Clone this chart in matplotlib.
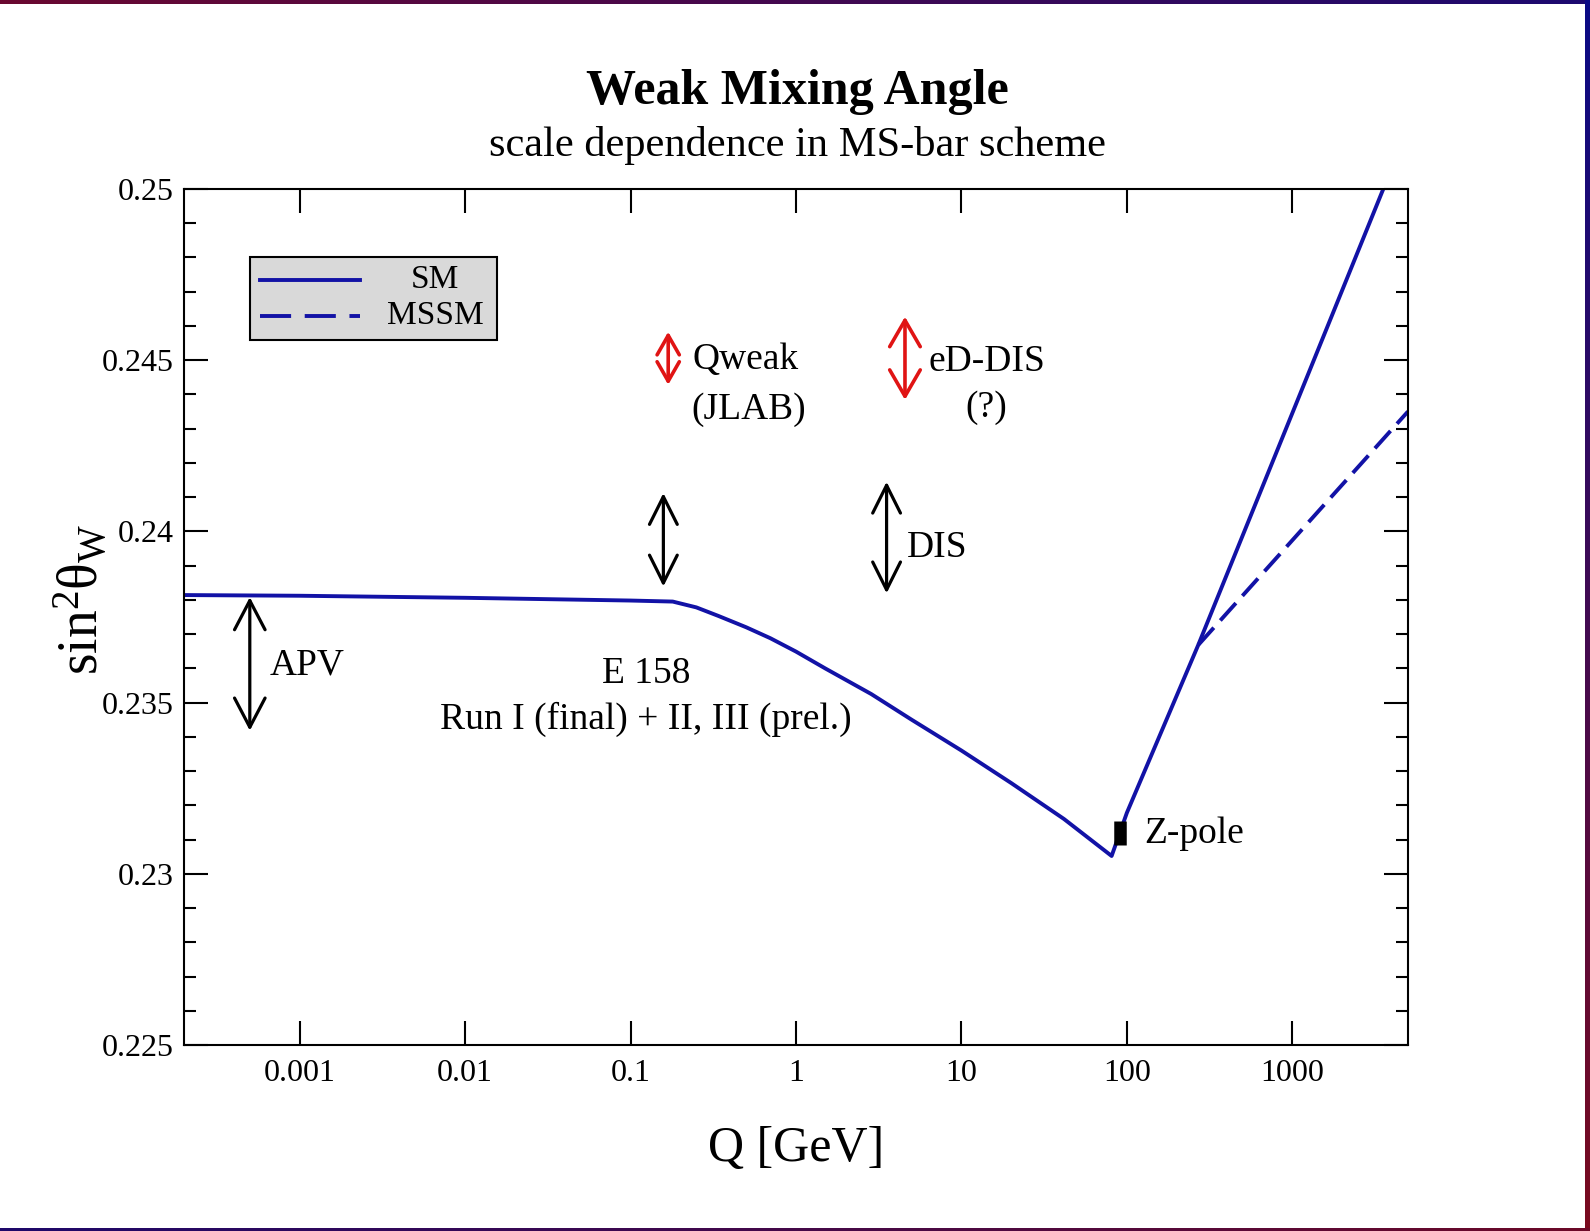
#!/usr/bin/env python3
"""Weak mixing angle running in the MS-bar scheme (xmgrace-style plot)."""

import numpy as np
import matplotlib
matplotlib.use("Agg")
import matplotlib.pyplot as plt
from matplotlib.colors import LinearSegmentedColormap
from matplotlib.patches import Rectangle
from matplotlib.lines import Line2D

plt.rcParams["font.family"] = ["Liberation Serif", "DejaVu Serif"]
plt.rcParams["mathtext.fontset"] = "custom"
plt.rcParams["mathtext.rm"] = "Liberation Serif"
plt.rcParams["mathtext.it"] = "Liberation Serif:italic"

# SM running of sin^2(theta_W)
q_sm = [2e-4, 1e-3, 1e-2, 0.1, 0.18, 0.25, 0.34, 0.5, 0.7, 1.0, 1.5, 2.85, 5.0,
        10.0, 20.0, 41.7, 80.9, 100.0, 270.0, 3548.0]
s2w_sm = [0.23814, 0.23812, 0.23806, 0.23798, 0.23795, 0.23778, 0.23753, 0.23720,
          0.23688, 0.23649, 0.23600, 0.23525, 0.23450, 0.23360, 0.23265, 0.23160,
          0.23052, 0.23178, 0.23668, 0.25000]

# MSSM branch above the SUSY threshold
q_mssm = [270.0, 5000.0]
s2w_mssm = [0.23668, 0.24350]

# measurements (black) and proposals (red): x, y_low, y_high
exp_names = ["APV", "E158", "DIS"]
exp_q = [5.0e-4, 0.158, 3.53]
exp_lo = [0.23418, 0.23839, 0.23819]
exp_hi = [0.23808, 0.24112, 0.24145]

future_names = ["Qweak", "eD-DIS"]
future_q = [0.169, 4.56]
future_lo = [0.24428, 0.24384]
future_hi = [0.24583, 0.24627]

zpole_q = 91.19
zpole_lo = 0.23085
zpole_hi = 0.23155

blue = "#1212a6"
red = "#e01414"

fig = plt.figure(figsize=(15.9, 12.31), dpi=100)
fig.patch.set_facecolor("white")
ax = fig.add_axes([0.1157, 0.1511, 0.7698, 0.6954])

ax.plot(q_sm, s2w_sm, color=blue, lw=2.8, solid_joinstyle="round")
ax.plot(q_mssm, s2w_mssm, color=blue, lw=2.8, dashes=(6, 2.5))


def double_arrow(x, lo, hi, color, hw=0.5, hl=1.0, lw=2.3):
    ax.annotate("", xy=(x, hi), xytext=(x, lo),
                arrowprops=dict(arrowstyle=f"<->, head_length={hl}, head_width={hw}",
                                color=color, lw=lw, shrinkA=0, shrinkB=0,
                                mutation_scale=20))


double_arrow(exp_q[0], exp_lo[0], exp_hi[0], "black", hw=0.55, hl=1.05)
double_arrow(exp_q[1], exp_lo[1], exp_hi[1], "black")
double_arrow(exp_q[2], exp_lo[2], exp_hi[2], "black")
double_arrow(future_q[0], future_lo[0], future_hi[0], red, hw=0.4, hl=0.7, lw=2.6)
double_arrow(future_q[1], future_lo[1], future_hi[1], red, hw=0.55, hl=0.95, lw=2.6)

ax.plot([zpole_q, zpole_q], [zpole_lo, zpole_hi], color="black", lw=9,
        solid_capstyle="butt")

fs = 27
ax.text(6.6e-4, 0.23608, "APV", fontsize=fs, va="center", ha="left")
ax.text(0.124, 0.23584, "E 158", fontsize=fs, va="center", ha="center")
ax.text(0.124, 0.23451, "Run I (final) + II, III (prel.)", fontsize=fs,
        va="center", ha="center")
ax.text(4.67, 0.23952, "DIS", fontsize=fs, va="center", ha="left")
ax.text(0.238, 0.24501, "Qweak", fontsize=fs, va="center", ha="left")
ax.text(0.516, 0.24355, "(JLAB)", fontsize=fs, va="center", ha="center")
ax.text(6.3, 0.24496, "eD-DIS", fontsize=fs, va="center", ha="left")
ax.text(14.2, 0.24360, "(?)", fontsize=fs, va="center", ha="center")
ax.text(128, 0.23118, "Z-pole", fontsize=fs, va="center", ha="left")

ax.set_xscale("log")
ax.set_xlim(2e-4, 5e3)
ax.set_ylim(0.225, 0.25)
ax.set_xticks([1e-3, 1e-2, 1e-1, 1, 10, 100, 1000])
ax.set_xticklabels(["0.001", "0.01", "0.1", "1", "10", "100", "1000"])
ax.xaxis.set_minor_locator(matplotlib.ticker.NullLocator())
ax.set_yticks(np.arange(0.225, 0.2501, 0.005))
ax.set_yticklabels(["0.225", "0.23", "0.235", "0.24", "0.245", "0.25"])
ax.yaxis.set_minor_locator(matplotlib.ticker.MultipleLocator(0.001))
ax.tick_params(which="both", direction="in", top=True, right=True, width=1.5,
               labelsize=23)
ax.tick_params(which="major", length=17)
ax.tick_params(which="minor", length=8.5)
ax.tick_params(axis="x", pad=10)
ax.tick_params(axis="y", pad=7)
for sp in ax.spines.values():
    sp.set_linewidth(1.5)

# legend box drawn by hand, labels centred like xmgrace
ax.add_patch(Rectangle((0.0539, 0.8236), 0.2016, 0.0973, transform=ax.transAxes,
                       facecolor="#d9d9d9", edgecolor="black", lw=1.5, zorder=5))
ax.add_line(Line2D([0.0621, 0.1438], [0.8937, 0.8937], transform=ax.transAxes,
                   color=blue, lw=2.8, zorder=6))
ax.add_line(Line2D([0.0621, 0.1438], [0.8516, 0.8516], transform=ax.transAxes,
                   color=blue, lw=2.8, dashes=(8, 3.5), zorder=6))
ax.text(0.2051, 0.8937, "SM", transform=ax.transAxes, fontsize=24,
        ha="center", va="center", zorder=7)
ax.text(0.2051, 0.8516, "MSSM", transform=ax.transAxes, fontsize=24,
        ha="center", va="center", zorder=7)

fig.text(0.5013, 0.925, "Weak Mixing Angle", fontsize=36, fontweight="bold",
         ha="center", va="center")
fig.text(0.5013, 0.882, "scale dependence in MS-bar scheme", fontsize=30.5,
         ha="center", va="center")
fig.text(0.5006, 0.0667, "Q [GeV]", fontsize=36, ha="center", va="center")
fig.text(0.051, 0.513, "sin$^{2}$θ$_{\\mathrm{W}}$", fontsize=40, rotation=90,
         ha="center", va="center")


# dark gradient frame on top, right and bottom edges
def strip(rect, c0, c1, vertical=False):
    cmap = LinearSegmentedColormap.from_list("s", [c0, c1])
    grad = np.linspace(0, 1, 256)
    img = grad[:, None] if vertical else grad[None, :]
    sax = fig.add_axes(rect)
    sax.imshow(img, aspect="auto", cmap=cmap, origin="upper")
    sax.set_axis_off()


strip([0, 1 - 4 / 1231, 1, 4 / 1231], "#6a0830", "#1c0a70")
strip([1 - 5 / 1590, 0, 5 / 1590, 1], "#0a0a86", "#7a0a1e", vertical=True)
strip([0, 0, 1, 3 / 1231], "#1e086a", "#6c0a28")

fig.savefig("out.png", dpi=100)
